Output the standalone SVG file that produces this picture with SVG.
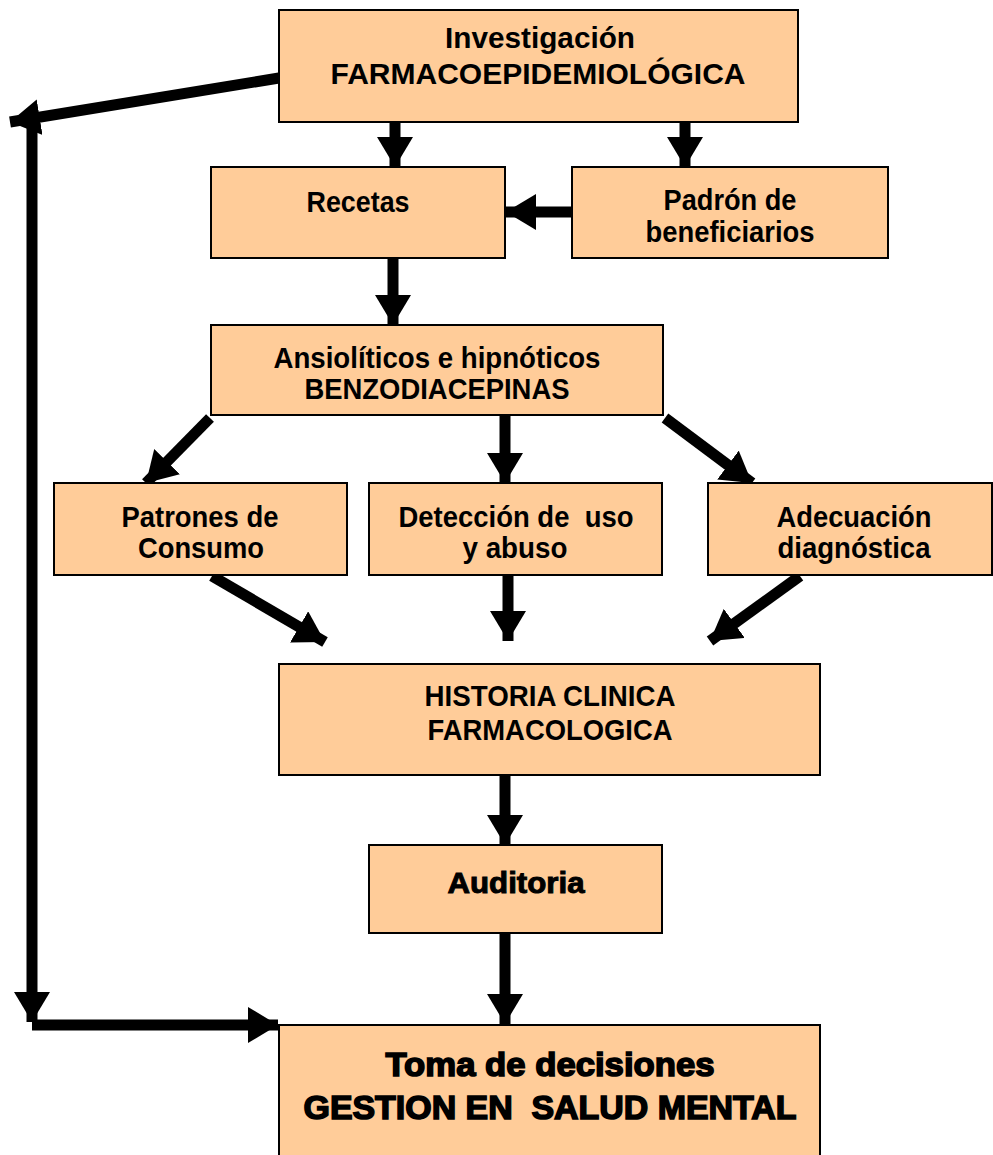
<svg xmlns="http://www.w3.org/2000/svg" width="993" height="1155" viewBox="0 0 993 1155">
<defs>
<marker id="ah" markerUnits="userSpaceOnUse" markerWidth="34" markerHeight="36" refX="30" refY="18" orient="auto">
<path d="M0,0 L30,18 L0,36 Z" fill="#000"/>
</marker>
<style>
.box{fill:#FFCC99;stroke:#000;stroke-width:2}
.t{font-family:'Liberation Sans',Arial,sans-serif;font-weight:bold;font-size:30px;text-anchor:middle;fill:#000;white-space:pre}
.hv{stroke:#000;stroke-width:1}
.big{font-size:34px;stroke:#000;stroke-width:1.6}
.c{stroke:#000;stroke-width:11;fill:none}
</style>
</defs>
<rect width="993" height="1155" fill="#fff"/>
<g id="connectors">
<line class="c" x1="279" y1="78" x2="10" y2="122" marker-end="url(#ah)"/>
<line class="c" x1="32" y1="120" x2="32" y2="1022" marker-end="url(#ah)"/>
<line class="c" x1="32" y1="1025" x2="278" y2="1025" marker-end="url(#ah)"/>
<line class="c" x1="395" y1="122" x2="395" y2="167" marker-end="url(#ah)"/>
<line class="c" x1="685" y1="122" x2="685" y2="167" marker-end="url(#ah)"/>
<line class="c" x1="572" y1="212" x2="506" y2="212" marker-end="url(#ah)"/>
<line class="c" x1="393" y1="258" x2="393" y2="325" marker-end="url(#ah)"/>
<line class="c" x1="210" y1="418" x2="146" y2="483" marker-end="url(#ah)"/>
<line class="c" x1="505" y1="415" x2="505" y2="483" marker-end="url(#ah)"/>
<line class="c" x1="665" y1="418" x2="752" y2="483" marker-end="url(#ah)"/>
<line class="c" x1="212" y1="576" x2="325" y2="642" marker-end="url(#ah)"/>
<line class="c" x1="508" y1="575" x2="508" y2="641" marker-end="url(#ah)"/>
<line class="c" x1="800" y1="576" x2="710" y2="641" marker-end="url(#ah)"/>
<line class="c" x1="505" y1="775" x2="505" y2="845" marker-end="url(#ah)"/>
<line class="c" x1="505" y1="933" x2="505" y2="1024" marker-end="url(#ah)"/>
</g>
<g id="investigacion"><rect class="box" x="279" y="10" width="519" height="112"/><text class="t" x="540" y="48" textLength="190" lengthAdjust="spacingAndGlyphs">Investigación</text><text class="t" x="538" y="84" textLength="415" lengthAdjust="spacingAndGlyphs">FARMACOEPIDEMIOLÓGICA</text></g>
<g id="recetas"><rect class="box" x="211" y="167" width="294" height="91"/><text class="t" x="358" y="212" textLength="103" lengthAdjust="spacingAndGlyphs">Recetas</text></g>
<g id="padron"><rect class="box" x="572" y="167" width="316" height="91"/><text class="t" x="730" y="210" textLength="133" lengthAdjust="spacingAndGlyphs">Padrón de</text><text class="t" x="730" y="242" textLength="169" lengthAdjust="spacingAndGlyphs">beneficiarios</text></g>
<g id="ansioliticos"><rect class="box" x="211" y="325" width="452" height="90"/><text class="t" x="437" y="368" textLength="327" lengthAdjust="spacingAndGlyphs">Ansiolíticos e hipnóticos</text><text class="t" x="437" y="399" textLength="265" lengthAdjust="spacingAndGlyphs">BENZODIACEPINAS</text></g>
<g id="patrones"><rect class="box" x="54" y="483" width="293" height="92"/><text class="t" x="200" y="527" textLength="157" lengthAdjust="spacingAndGlyphs">Patrones de</text><text class="t" x="201" y="558" textLength="126" lengthAdjust="spacingAndGlyphs">Consumo</text></g>
<g id="deteccion"><rect class="box" x="369" y="483" width="293" height="92"/><text class="t" x="516" y="527" textLength="235" lengthAdjust="spacingAndGlyphs">Detección de  uso</text><text class="t" x="515" y="558" textLength="105" lengthAdjust="spacingAndGlyphs">y abuso</text></g>
<g id="adecuacion"><rect class="box" x="708" y="483" width="284" height="92"/><text class="t" x="854" y="527" textLength="155" lengthAdjust="spacingAndGlyphs">Adecuación</text><text class="t" x="854" y="558" textLength="153" lengthAdjust="spacingAndGlyphs">diagnóstica</text></g>
<g id="historia"><rect class="box" x="279" y="664" width="541" height="111"/><text class="t" x="550" y="706" textLength="251" lengthAdjust="spacingAndGlyphs">HISTORIA CLINICA</text><text class="t" x="550" y="740" textLength="245" lengthAdjust="spacingAndGlyphs">FARMACOLOGICA</text></g>
<g id="auditoria"><rect class="box" x="369" y="845" width="293" height="88"/><text class="t hv" x="516" y="893" textLength="137" lengthAdjust="spacingAndGlyphs">Auditoria</text></g>
<g id="toma"><rect class="box" x="279" y="1025" width="541" height="140"/><text class="t big" x="550" y="1076" textLength="329" lengthAdjust="spacingAndGlyphs">Toma de decisiones</text><text class="t big" x="550" y="1119" textLength="493" lengthAdjust="spacingAndGlyphs">GESTION EN  SALUD MENTAL</text></g>
</svg>
